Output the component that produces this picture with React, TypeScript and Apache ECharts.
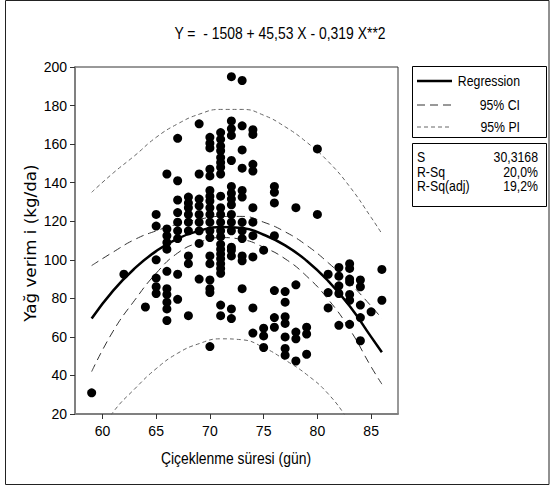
import React, { useEffect, useRef } from "react";
import * as echarts from "echarts";

// ---- data ----
const dayValues = [59, 62, 64, 65, 66, 67, 68, 69, 70, 71, 72, 73, 74, 75, 76, 77, 78, 79, 80, 81, 82, 83, 84, 85, 86];
const yieldColumns = [
  [31],
  [92.5],
  [75.5],
  [123.5, 117.5, 100, 90.5, 86, 82.5],
  [144.5, 116, 112.5, 109, 105.5, 94, 85, 82, 78, 74.5, 68.5],
  [163, 141, 131, 124.5, 119.5, 115, 111, 92.5, 79.5],
  [132.5, 129.5, 127, 123.5, 119.5, 115, 102, 98, 71],
  [170.5, 144.5, 131.5, 128, 123.5, 119.5, 115, 108.5, 90],
  [163.5, 160.5, 158, 147, 143.5, 136, 133, 130.5, 127, 123.5, 119.5, 115, 111.5, 102, 98, 89.5, 85, 83, 55],
  [166, 162.5, 159, 156.5, 153, 150.5, 148, 144.5, 133, 127, 123.5, 119.5, 115, 112, 108, 105.5, 103, 100.5, 98, 95.5, 93, 76.5, 71],
  [195, 172, 168, 164.5, 151.5, 138, 134.5, 131.5, 128.5, 123.5, 119.5, 115, 106.5, 105, 102, 74.5, 69.5],
  [193, 169.5, 157, 147.5, 136, 132.5, 119.5, 115, 111, 102, 99.5, 85],
  [167.5, 165, 149.5, 146, 127, 119.5, 112.5, 101.5, 75, 62],
  [105, 64.5, 60.5, 54.5],
  [138, 135, 129.5, 112.5, 84, 70, 65],
  [83.5, 78, 70.5, 67, 60, 54, 50.5],
  [127, 87, 62.5, 59, 47.5],
  [65, 61.5, 51],
  [157.5, 123.5],
  [92.5, 83, 75],
  [96, 91.5, 86.5, 82.5, 66],
  [98, 95.5, 90, 88.5, 82, 79, 66.5],
  [89.5, 86, 76.5, 70, 58],
  [73],
  [95, 79],
];

const curveX = [59, 61, 63, 65, 67, 69, 71, 73, 75, 77, 79, 81, 83, 85, 86];
const fitY = [69.5, 84, 95.5, 104.5, 111, 115, 117, 116.5, 113, 107.5, 99.5, 89, 76, 60, 52];
const ciUpper = [97, 104, 110.5, 115, 118.5, 121, 122.5, 122.5, 119.5, 114.5, 107.5, 98.5, 88, 76, 69.5];
const ciLower = [42, 63, 79, 93, 103.5, 109, 111.5, 110.5, 106.5, 100.5, 91.5, 79.5, 64, 44.5, 35.5];
const piUpper = [135, 145, 154, 163.5, 170.5, 175.5, 178, 178, 175, 169, 161, 151, 138, 122, 113.5];
const piLower = [4, 21, 33, 43.5, 51.5, 56.5, 59, 58.5, 54.5, 48, 40.5, 30.5, 16, 0, -9];

const xTicks = [60, 65, 70, 75, 80, 85];
const titleText = "Y =  - 1508 + 45,53 X - 0,319 X**2";
const xTitle = "Çiçeklenme süresi (gün)";
const yTitle = "Yağ verim i (kg/da)";
const legendNames = ["Regression", "95% CI", "95% PI"];
const statNames = ["S", "R-Sq", "R-Sq(adj)"];
const statValues = ["30,3168", "20,0%", "19,2%"];

const ARIAL = "'Liberation Sans', Arial, sans-serif";
const NARROW_SCALE = 0.82;

export default function App() {
  const ref = useRef<HTMLDivElement>(null);
  useEffect(() => {
    const chart = echarts.init(ref.current!, null, { renderer: "svg" });
    const points: number[][] = [];
    dayValues.forEach((d, i) => yieldColumns[i].forEach((v) => points.push([d, v])));
    const pair = (ys: number[]) => curveX.map((x, i) => [x, ys[i]]);

    const lineSeries = (data: number[][], color: string, width: number, dash: any) => ({
      type: "line",
      data,
      smooth: true,
      showSymbol: false,
      symbol: "none",
      clip: true,
      silent: true,
      z: 2,
      lineStyle: { color, width, type: dash },
    });

    const narrowText = (text: string, x: number, y: number, size: number, align: string) => ({
      type: "text",
      x,
      y,
      scaleX: NARROW_SCALE,
      style: { text, fontSize: size, fontFamily: ARIAL, fill: "#000", align, verticalAlign: "middle" },
    });

    const legendY = [81, 105, 127];
    const statY = [157, 172, 186];
    const graphics: any[] = [
      { type: "rect", shape: { x: 5.5, y: 0.5, width: 543.5, height: 484 }, style: { fill: "none", stroke: "#222", lineWidth: 1 }, z: 0 },
      narrowText(titleText, 280, 33, 17, "center"),
      narrowText(xTitle, 236, 458, 17, "center"),
      {
        type: "text",
        x: 31,
        y: 243,
        rotation: Math.PI / 2,
        scaleX: 1.08,
        style: { text: yTitle, fontSize: 15.5, fontFamily: "'DejaVu Sans', sans-serif", fill: "#000", align: "center", verticalAlign: "middle" },
      },
      { type: "rect", shape: { x: 412.5, y: 66.5, width: 134, height: 71 }, style: { fill: "#fff", stroke: "#000", lineWidth: 1 } },
      { type: "rect", shape: { x: 412.5, y: 143.5, width: 134, height: 63 }, style: { fill: "#fff", stroke: "#000", lineWidth: 1 } },
      { type: "line", shape: { x1: 417, y1: legendY[0], x2: 452, y2: legendY[0] }, style: { stroke: "#000", lineWidth: 2.5 } },
      { type: "line", shape: { x1: 417, y1: legendY[1], x2: 452, y2: legendY[1] }, style: { stroke: "#333", lineWidth: 1, lineDash: [8, 5] } },
      { type: "line", shape: { x1: 417, y1: legendY[2], x2: 452, y2: legendY[2] }, style: { stroke: "#666", lineWidth: 1, lineDash: [4, 3] } },
    ];
    legendNames.forEach((n, i) => graphics.push(narrowText(n, 520, legendY[i], 15, "right")));
    statNames.forEach((n, i) => {
      graphics.push(narrowText(n, 417, statY[i], 15, "left"));
      graphics.push(narrowText(statValues[i], 538, statY[i], 15, "right"));
    });

    chart.setOption({
      animation: false,
      backgroundColor: "#fff",
      grid: { left: 75, top: 67, width: 323, height: 347, show: true, borderColor: "#333", borderWidth: 1, backgroundColor: "#fff" },
      xAxis: {
        type: "value",
        min: 57.45,
        max: 87.5,
        axisLine: { show: true, onZero: false, lineStyle: { color: "#808080", width: 2 } },
        axisTick: { show: true, customValues: xTicks, length: 5, lineStyle: { color: "#333", width: 1 } },
        axisLabel: { customValues: xTicks, color: "#000", fontFamily: ARIAL, fontSize: 14, margin: 10 },
        splitLine: { show: false },
      },
      yAxis: {
        type: "value",
        min: 20,
        max: 200,
        interval: 20,
        axisLine: { show: true, onZero: false, lineStyle: { color: "#808080", width: 2 } },
        axisTick: { show: true, length: 5, lineStyle: { color: "#333", width: 1 } },
        axisLabel: { color: "#000", fontFamily: ARIAL, fontSize: 14, margin: 8 },
        splitLine: { show: false },
      },
      series: [
        { type: "scatter", data: points, symbol: "circle", symbolSize: 9, itemStyle: { color: "#000", opacity: 1 }, z: 3, silent: true },
        lineSeries(pair(fitY), "#000", 2.5, "solid"),
        lineSeries(pair(ciUpper), "#333", 1, [8, 5]),
        lineSeries(pair(ciLower), "#333", 1, [8, 5]),
        lineSeries(pair(piUpper), "#666", 1, [4, 3]),
        lineSeries(pair(piLower), "#666", 1, [4, 3]),
      ],
      graphic: graphics,
    });
    return () => chart.dispose();
  }, []);
  return <div ref={ref} style={{ position: "fixed", left: 0, top: 0, width: 550, height: 486, background: "#fff" }} />;
}
